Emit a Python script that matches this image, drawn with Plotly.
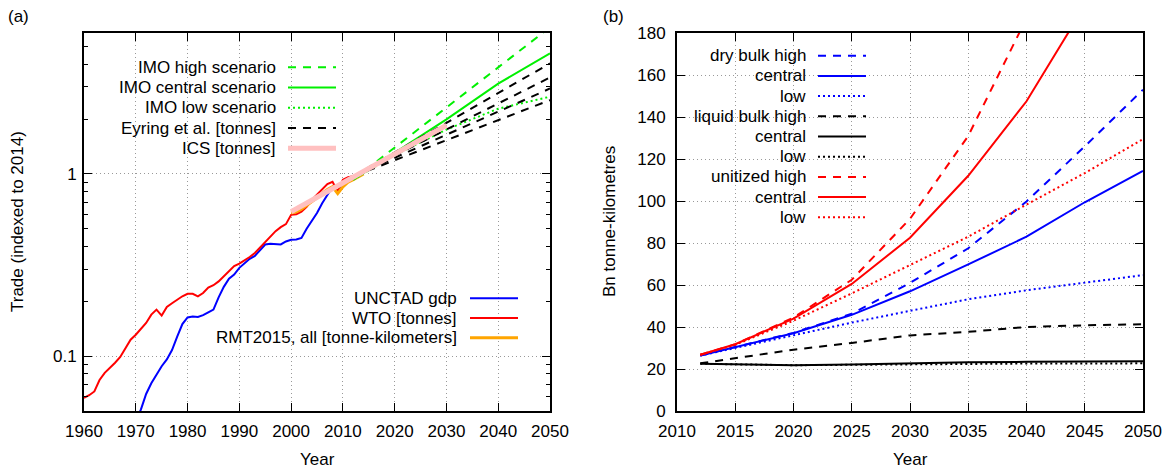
import math
import plotly.graph_objects as go

# ---------------- Panel (a) data ----------------
unctad_years = list(range(1970, 2015))
unctad_vals = [0.044, 0.051, 0.062, 0.071, 0.079, 0.088, 0.096, 0.108, 0.128, 0.150,
               0.163, 0.165, 0.164, 0.168, 0.174, 0.180, 0.210, 0.240, 0.266, 0.280,
               0.305, 0.322, 0.342, 0.355, 0.380, 0.410, 0.414, 0.412, 0.410, 0.426,
               0.435, 0.437, 0.445, 0.500, 0.550, 0.610, 0.690, 0.770, 0.850, 0.800,
               0.900, 0.950, 0.970, 0.985, 1.000]

wto_years = list(range(1960, 2015))
wto_vals = [0.059, 0.061, 0.064, 0.074, 0.081, 0.086, 0.092, 0.099, 0.110, 0.123,
            0.131, 0.141, 0.152, 0.169, 0.180, 0.167, 0.186, 0.195, 0.205, 0.213,
            0.220, 0.220, 0.213, 0.222, 0.238, 0.245, 0.257, 0.275, 0.295, 0.312,
            0.322, 0.335, 0.350, 0.368, 0.395, 0.425, 0.455, 0.485, 0.510, 0.530,
            0.596, 0.600, 0.620, 0.660, 0.720, 0.770, 0.830, 0.880, 0.905, 0.800,
            0.930, 0.960, 0.970, 0.985, 1.000]

rmt_years = list(range(2000, 2015))
rmt_vals = [0.61, 0.62, 0.64, 0.67, 0.70, 0.74, 0.78, 0.82, 0.85, 0.78,
            0.85, 0.90, 0.93, 0.96, 1.00]

ics_years = [2000, 2008, 2014, 2020, 2030]
ics_vals = [0.62, 0.83, 1.02, 1.28, 1.85]

imo_years = [2012, 2020, 2030, 2040, 2050]
imo_high = [0.93, 1.39, 2.31, 3.84, 6.37]
imo_central = [0.93, 1.30, 1.99, 3.13, 4.58]
imo_low = [0.93, 1.27, 1.75, 2.28, 2.65]

eyring_years = [2012, 2030, 2040, 2050]
eyring_1 = [0.97, 1.90, 2.78, 4.04]
eyring_2 = [0.97, 1.75, 2.43, 3.38]
eyring_3 = [0.97, 1.64, 2.20, 2.94]
eyring_4 = [0.97, 1.53, 1.97, 2.54]

# ---------------- Panel (b) data ----------------
proj_years = [2012, 2015, 2020, 2025, 2030, 2035, 2040, 2045, 2050]
dry_high = [26.4, 30.5, 37.2, 46.3, 61.0, 77.5, 99.8, 126.0, 153.0]
dry_central = [26.4, 30.5, 37.0, 45.8, 57.0, 69.8, 83.0, 99.4, 114.3]
dry_low = [26.4, 30.0, 35.8, 42.1, 47.7, 53.2, 57.5, 61.2, 64.7]
liq_high = [22.7, 25.2, 29.2, 32.4, 36.0, 37.7, 40.0, 40.8, 41.3]
liq_central = [22.5, 22.2, 21.8, 22.1, 22.8, 23.2, 23.4, 23.5, 23.7]
liq_low = [22.5, 22.2, 21.8, 22.0, 22.3, 22.5, 22.6, 22.6, 22.7]
unit_years_high = [2012, 2015, 2020, 2025, 2030, 2035, 2040]
unit_high = [26.8, 31.8, 44.5, 62.5, 91.5, 131.0, 187.0]
unit_years_central = [2012, 2015, 2020, 2025, 2030, 2035, 2040, 2045]
unit_central = [26.8, 31.8, 44.0, 60.5, 82.5, 112.0, 147.5, 193.0]
unit_low = [26.8, 31.5, 43.0, 56.0, 69.5, 83.0, 98.3, 113.3, 129.5]

# ---------------- layout helpers ----------------
# target positions are given in screenshot pixels; the page body has an 8px margin
OFF = 8
SW, SH = 1174, 469
W, H = SW - OFF, SH - OFF
L, R, T, B = 84, 1143, 33, 411


def fx(px):
    return (px - L) / (R - L)


def fy(py):
    return (B - py) / (B - T)


FONT = "Liberation Sans, Arial, Helvetica, sans-serif"
FS = 17
BLUE, RED, BLACK = "#0000ff", "#ff0000", "#000000"
GREEN, ORANGE, PINK = "#00f000", "#ffa500", "#ffc0c0"
DASH, DOT = "8px,7px", "2px,3px"

fig = go.Figure()


def line(x, y, color, width=2, dash="solid", xa="x", ya="y"):
    fig.add_trace(go.Scatter(x=x, y=y, mode="lines",
                             line=dict(color=color, width=width, dash=dash),
                             xaxis=xa, yaxis=ya, showlegend=False,
                             hoverinfo="skip"))


# panel (a)
line(unctad_years, unctad_vals, BLUE)
line(wto_years, wto_vals, RED)
line(rmt_years, rmt_vals, ORANGE, width=3)
line(imo_years, imo_high, GREEN, dash=DASH)
line(imo_years, imo_central, GREEN)
line(imo_years, imo_low, GREEN, dash=DOT)
for ey in (eyring_1, eyring_2, eyring_3, eyring_4):
    line(eyring_years, ey, BLACK, dash=DASH)
line(ics_years, ics_vals, PINK, width=5)

# panel (b)
line(proj_years, dry_high, BLUE, dash=DASH, xa="x2", ya="y2")
line(proj_years, dry_central, BLUE, xa="x2", ya="y2")
line(proj_years, dry_low, BLUE, dash=DOT, xa="x2", ya="y2")
line(proj_years, liq_high, BLACK, dash=DASH, xa="x2", ya="y2")
line(proj_years, liq_central, BLACK, xa="x2", ya="y2")
line(proj_years, liq_low, BLACK, dash=DOT, xa="x2", ya="y2")
line(unit_years_high, unit_high, RED, dash=DASH, xa="x2", ya="y2")
line(unit_years_central, unit_central, RED, xa="x2", ya="y2")
line(proj_years, unit_low, RED, dash=DOT, xa="x2", ya="y2")

shapes = []
annotations = []


def legend_entry(text, text_right, s0, s1, row_y, color, width=2, dash="solid"):
    annotations.append(dict(text=text, x=fx(text_right), y=fy(row_y),
                            xref="paper", yref="paper", xanchor="right",
                            yanchor="middle", showarrow=False,
                            font=dict(family=FONT, size=FS, color="black")))
    shapes.append(dict(type="line", xref="paper", yref="paper",
                       x0=fx(s0), x1=fx(s1), y0=fy(row_y), y1=fy(row_y),
                       line=dict(color=color, width=width, dash=dash),
                       layer="above"))


# legend (a) upper
rows_a = [67.3, 87.6, 107.8, 128.1, 148.3]
legend_entry("IMO high scenario", 278, 288, 336, rows_a[0], GREEN, dash=DASH)
legend_entry("IMO central scenario", 278, 288, 336, rows_a[1], GREEN)
legend_entry("IMO low scenario", 278, 288, 336, rows_a[2], GREEN, dash=DOT)
legend_entry("Eyring et al. [tonnes]", 278, 288, 336, rows_a[3], BLACK, dash=DASH)
legend_entry("ICS [tonnes]", 278, 288, 336, rows_a[4], PINK, width=5)
# legend (a) lower
rows_a2 = [298.3, 318.0, 337.7]
legend_entry("UNCTAD gdp", 459, 470, 518, rows_a2[0], BLUE)
legend_entry("WTO [tonnes]", 459, 470, 518, rows_a2[1], RED)
legend_entry("RMT2015, all [tonne-kilometers]", 459, 470, 518, rows_a2[2], ORANGE, width=3)

# legend (b) with white background masking the grid
shapes.append(dict(type="rect", xref="paper", yref="paper",
                   x0=fx(677), x1=fx(870), y0=fy(228), y1=1,
                   fillcolor="white", line=dict(width=0), layer="between"))
rows_b = [55.7 + 20.2 * i for i in range(9)]
entries_b = [("dry bulk high", BLUE, DASH), ("central", BLUE, "solid"), ("low", BLUE, DOT),
             ("liquid bulk high", BLACK, DASH), ("central", BLACK, "solid"), ("low", BLACK, DOT),
             ("unitized high", RED, DASH), ("central", RED, "solid"), ("low", RED, DOT)]
for (txt, col, dsh), ry in zip(entries_b, rows_b):
    legend_entry(txt, 808, 818, 866, ry, col, dash=dsh)


def text(t, px, py, angle=0, size=FS):
    annotations.append(dict(text=t, x=fx(px), y=fy(py), xref="paper", yref="paper",
                            xanchor="center", yanchor="middle", showarrow=False,
                            textangle=angle,
                            font=dict(family=FONT, size=size, color="black")))


text("(a)", 18, 16)
text("(b)", 613, 16)
text("Year", 317, 459)
text("Year", 910, 459)
text("Trade (indexed to 2014)", 17, 222, angle=-90)
text("Bn tonne-kilometres", 609, 222, angle=-90)

common = dict(showline=True, linecolor="black", linewidth=2, mirror="allticks",
              ticks="inside", ticklen=8, tickwidth=1, tickcolor="black",
              showgrid=True, gridcolor="#999999", gridwidth=1, griddash="1px,3px",
              zeroline=False, tickfont=dict(family=FONT, size=FS, color="black"))

minor_vals = [0.05, 0.06, 0.07, 0.08, 0.09, 0.2, 0.3, 0.4, 0.5, 0.6, 0.7, 0.8, 0.9,
              2, 3, 4, 5]

fig.update_layout(
    width=W, height=H,
    margin=dict(l=L - OFF, r=SW - R, t=T - OFF, b=SH - B, pad=0),
    paper_bgcolor="white", plot_bgcolor="white",
    font=dict(family=FONT, size=FS, color="black"),
    xaxis=dict(domain=[0, fx(550)], range=[1960, 2050], tick0=1960, dtick=10,
               anchor="y", ticklabelstandoff=4, **common),
    yaxis=dict(domain=[0, 1], type="log", range=[math.log10(0.05), math.log10(5.93)],
               tickmode="array", tickvals=[0.1, 1], ticktext=["0.1", "1"],
               anchor="x", ticklabelstandoff=2,
               minor=dict(tickmode="array", tickvals=minor_vals,
                          ticks="inside", ticklen=4, tickcolor="black",
                          showgrid=False), **common),
    xaxis2=dict(domain=[fx(677), 1], range=[2010, 2050], tick0=2010, dtick=5,
                anchor="y2", ticklabelstandoff=4, **common),
    yaxis2=dict(domain=[0, 1], range=[0, 180], tick0=0, dtick=20, anchor="x2",
                ticklabelstandoff=6, **common),
    shapes=shapes,
    annotations=annotations,
    showlegend=False,
)

fig.write_html("out.html")
